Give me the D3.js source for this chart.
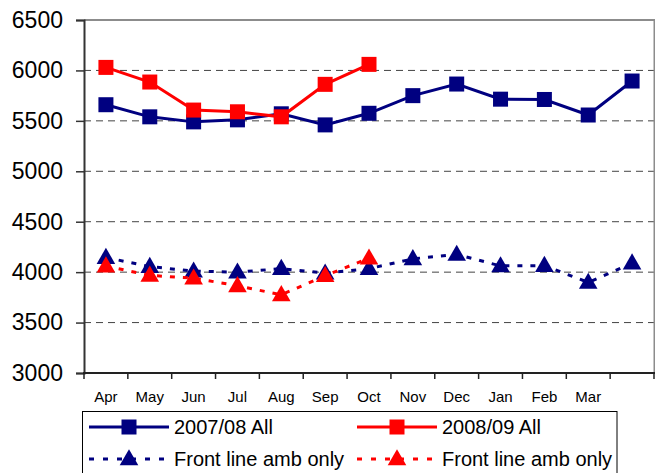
<!DOCTYPE html>
<html>
<head>
<meta charset="utf-8">
<script src="https://cdn.jsdelivr.net/npm/d3@7"></script>
<style>
  html, body { margin: 0; padding: 0; background: #fff; }
  svg { display: block; font-family: "Liberation Sans", Arial, sans-serif; }
</style>
</head>
<body>
<svg id="chart" width="655" height="473"></svg>
<script>
// ---- data ----
const categories = ["Apr","May","Jun","Jul","Aug","Sep","Oct","Nov","Dec","Jan","Feb","Mar",""];
const all0708   = [5660, 5540, 5490, 5510, 5570, 5460, 5575, 5750, 5865, 5715, 5712, 5558, 5895];
const all0809   = [6030, 5885, 5607, 5590, 5540, 5862, 6060];
const front0708 = [4145, 4055, 4010, 4000, 4035, 3990, 4035, 4132, 4175, 4062, 4065, 3898, 4090];
const front0809 = [4060, 3968, 3940, 3865, 3775, 3965, 4138];
const yTicks = [3000, 3500, 4000, 4500, 5000, 5500, 6000, 6500];
const seriesNames = ["2007/08 All", "2008/09 All", "Front line amb only", "Front line amb only"];

const NAVY = "#000080", RED = "#ff0000";

const svg = d3.select("#chart");
const pLeft = 84, pRight = 654, pTop = 20, pBottom = 373;

const x = d3.scaleBand().domain(d3.range(categories.length)).range([pLeft, pRight]).padding(0);
const xEdge = d3.scaleLinear().domain([0, categories.length]).range([pLeft, pRight]);
const y = d3.scaleLinear().domain([3000, 6500]).range([pBottom, pTop]);
const cx = i => x(i) + x.bandwidth() / 2;

// gridlines
svg.append("g").selectAll("line").data(yTicks.filter(v => v > 3000 && v < 6500)).join("line")
  .attr("x1", pLeft).attr("x2", pRight)
  .attr("y1", d => y(d)).attr("y2", d => y(d))
  .attr("stroke", "#444").attr("stroke-width", 1).attr("stroke-dasharray", "7,5");

// plot frame top/right
svg.append("line").attr("x1", pLeft).attr("x2", pRight + 1).attr("y1", pTop).attr("y2", pTop)
  .attr("stroke", "#8c8c8c").attr("stroke-width", 2);
svg.append("line").attr("x1", pRight + 0.5).attr("x2", pRight + 0.5).attr("y1", pTop).attr("y2", pBottom)
  .attr("stroke", "#8c8c8c").attr("stroke-width", 2);

// y axis
const yAxis = svg.append("g").attr("transform", `translate(${pLeft},0)`)
  .call(d3.axisLeft(y).tickValues(yTicks).tickSize(8).tickPadding(13).tickFormat(d3.format("d")));
yAxis.select(".domain").attr("stroke", "#333").attr("stroke-width", 2);
yAxis.selectAll(".tick line").attr("stroke", "#333").attr("stroke-width", 1.5);
yAxis.selectAll("text").attr("font-size", 23).attr("fill", "#000")
  .attr("font-family", "'Liberation Sans', Arial, sans-serif");

// x axis labels
const xAxis = svg.append("g").attr("transform", `translate(0,${pBottom})`)
  .call(d3.axisBottom(x).tickSize(0).tickPadding(18).tickFormat(i => categories[i]));
xAxis.select(".domain").remove();
xAxis.selectAll("text").attr("font-size", 15).attr("fill", "#000")
  .attr("font-family", "'Liberation Sans', Arial, sans-serif");
// x tick marks at category boundaries
svg.append("g").selectAll("line").data(d3.range(categories.length + 1)).join("line")
  .attr("x1", d => xEdge(d)).attr("x2", d => xEdge(d))
  .attr("y1", pBottom).attr("y2", pBottom + 6)
  .attr("stroke", "#222").attr("stroke-width", 1.5);
svg.append("line").attr("x1", pLeft - 1).attr("x2", pRight + 1).attr("y1", pBottom).attr("y2", pBottom)
  .attr("stroke", "#222").attr("stroke-width", 2);

const line = d3.line().x((d, i) => cx(i)).y(d => y(d));
const tri = d3.symbol().type(d3.symbolTriangle).size(150);

function drawSeries(vals, color, dashed, marker) {
  const g = svg.append("g");
  g.append("path").datum(vals).attr("d", line)
    .attr("fill", "none").attr("stroke", color).attr("stroke-width", 3)
    .attr("stroke-dasharray", dashed ? "5,8" : null);
  if (marker === "square") {
    g.selectAll("rect").data(vals).join("rect")
      .attr("x", (d, i) => cx(i) - 7.5).attr("y", d => y(d) - 7.5)
      .attr("width", 15).attr("height", 15).attr("fill", color);
  } else {
    g.selectAll("path.m").data(vals).join("path").attr("class", "m")
      .attr("d", tri).attr("transform", (d, i) => `translate(${cx(i)},${y(d) + 1})`)
      .attr("fill", color);
  }
}

drawSeries(front0708, NAVY, true, "tri");
drawSeries(front0809, RED, true, "tri");
drawSeries(all0708, NAVY, false, "square");
drawSeries(all0809, RED, false, "square");

// legend
const lg = svg.append("g");
lg.append("rect").attr("x", 82.5).attr("y", 411.5).attr("width", 534.5).attr("height", 70)
  .attr("fill", "#fff").attr("stroke", "#000").attr("stroke-width", 1);
const legendItems = [
  { name: seriesNames[0], color: NAVY, dashed: false, marker: "square", lx: 89, ly: 427 },
  { name: seriesNames[1], color: RED, dashed: false, marker: "square", lx: 357, ly: 427 },
  { name: seriesNames[2], color: NAVY, dashed: true, marker: "tri", lx: 89, ly: 459 },
  { name: seriesNames[3], color: RED, dashed: true, marker: "tri", lx: 357, ly: 459 }
];
legendItems.forEach(it => {
  lg.append("line").attr("x1", it.lx).attr("x2", it.lx + 80).attr("y1", it.ly).attr("y2", it.ly)
    .attr("stroke", it.color).attr("stroke-width", 3)
    .attr("stroke-dasharray", it.dashed ? "5,9" : null);
  const mx = it.lx + 40;
  if (it.marker === "square") {
    lg.append("rect").attr("x", mx - 7.5).attr("y", it.ly - 7.5).attr("width", 15).attr("height", 15)
      .attr("fill", it.color);
  } else {
    lg.append("path").attr("d", tri).attr("transform", `translate(${mx},${it.ly + 1})`).attr("fill", it.color);
  }
  lg.append("text").attr("x", it.lx + 85).attr("y", it.ly + 7).attr("font-size", 20)
    .attr("fill", "#000").text(it.name);
});
</script>
</body>
</html>
